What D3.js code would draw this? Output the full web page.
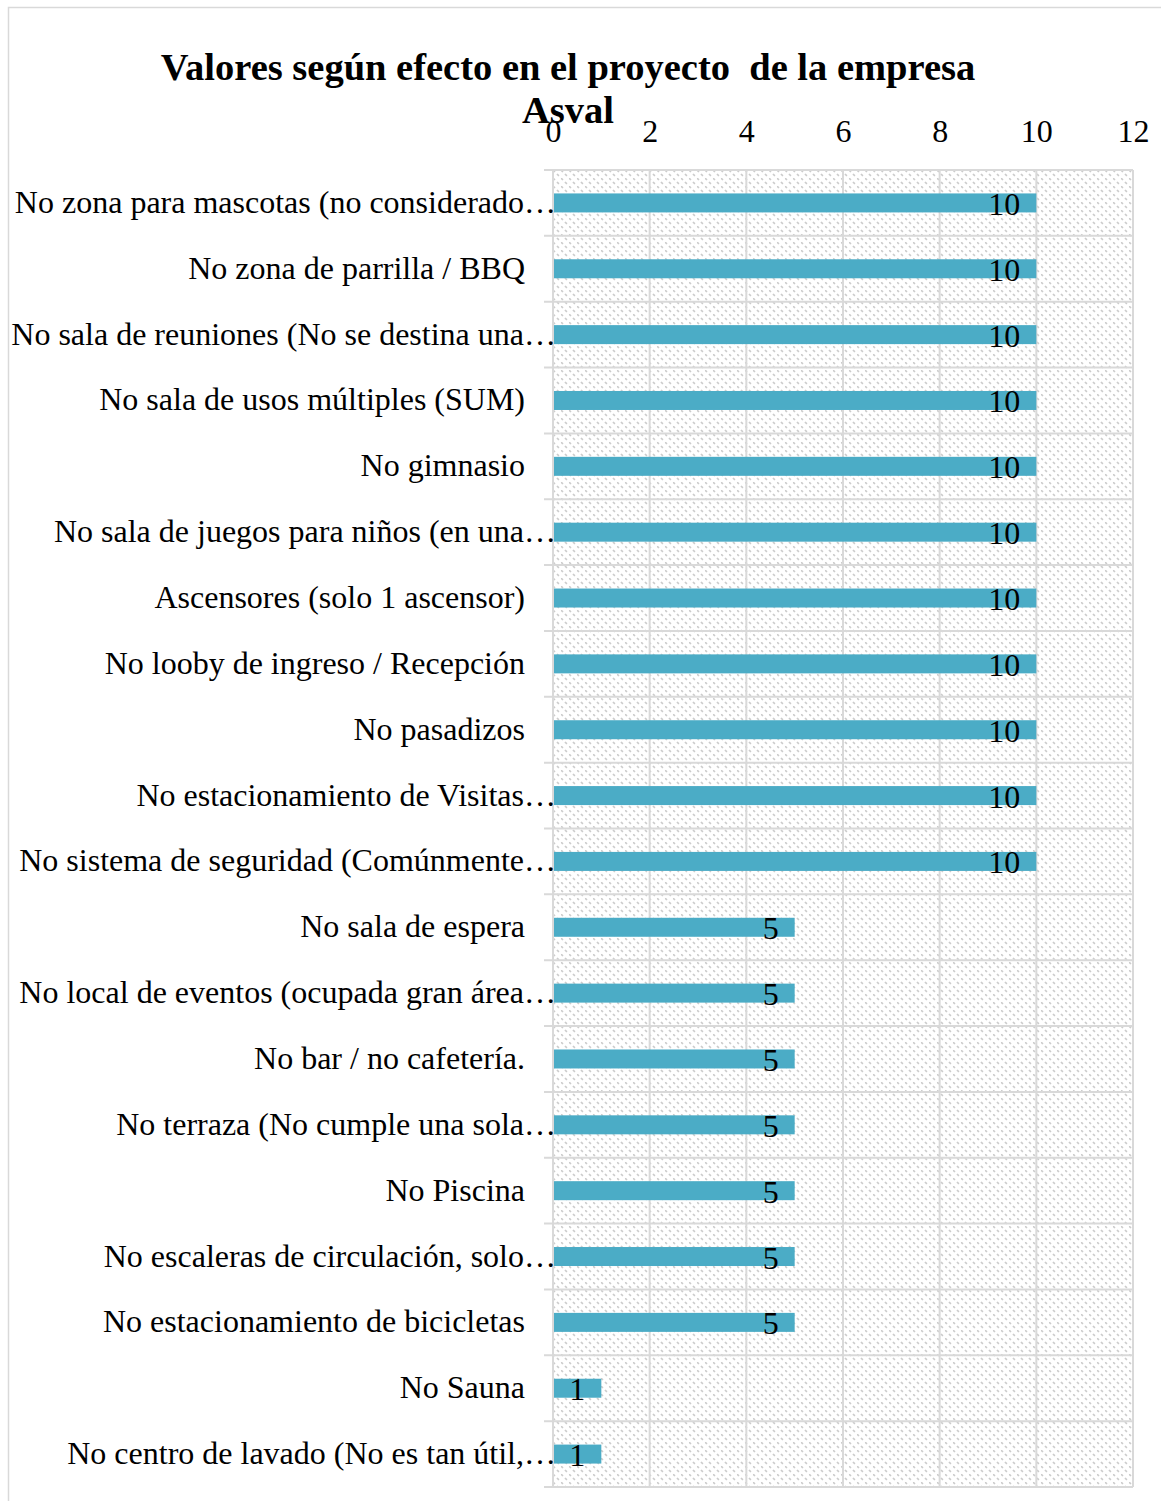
<!DOCTYPE html>
<html>
<head>
<meta charset="utf-8">
<script src="https://cdn.jsdelivr.net/npm/d3@7"></script>
<style>
  body { margin: 0; background: #fff; }
  svg { display: block; font-family: "Liberation Serif", "Times New Roman", serif; }
</style>
</head>
<body>
<div id="chart"></div>
<script>
// data
var categories = [
	"No zona para mascotas (no considerado…",
	"No zona de parrilla / BBQ",
	"No sala de reuniones (No se destina una…",
	"No sala de usos múltiples (SUM)",
	"No gimnasio",
	"No sala de juegos para niños (en una…",
	"Ascensores (solo 1 ascensor)",
	"No looby de ingreso / Recepción",
	"No pasadizos",
	"No estacionamiento de Visitas…",
	"No sistema de seguridad (Comúnmente…",
	"No sala de espera",
	"No local de eventos (ocupada gran área…",
	"No bar / no cafetería.",
	"No terraza (No cumple una sola…",
	"No Piscina",
	"No escaleras de circulación, solo…",
	"No estacionamiento de bicicletas",
	"No Sauna",
	"No centro de lavado (No es tan útil,…"
]
var values = [10, 10, 10, 10, 10, 10, 10, 10, 10, 10, 10, 5, 5, 5, 5, 5, 5, 5, 1, 1]
var xTicks = [0, 2, 4, 6, 8, 10, 12]
var titleLines = ["Valores según efecto en el proyecto  de la empresa", "Asval"]

var W = 1161, H = 1501
var margin = {top: 170, left: 553}

var svg = d3.select("#chart").append("svg")
	.attr("width", W)
	.attr("height", H)

// hatch fill of the plot area
var pat = svg.append("defs").append("pattern")
	.attr("id", "hatch")
	.attr("patternUnits", "userSpaceOnUse")
	.attr("width", 8).attr("height", 8)
pat.append("rect").attr("width", 8).attr("height", 8).attr("fill", "#fff")
pat.append("path")
	.attr("d", "M0,0 L8,8 M-4,4 L0,8 M4,-4 L8,0")
	.attr("stroke", "#cccccc")
	.attr("stroke-width", 1.6)
	.attr("stroke-dasharray", "2.8,2.8")

// outer chart border
svg.append("rect")
	.attr("x", 8.5).attr("y", 7.5)
	.attr("width", W + 20).attr("height", H + 20)
	.attr("fill", "none")
	.attr("stroke", "#d9d9d9")
	.attr("stroke-width", 1.5)

var x = d3.scaleLinear().domain([0, 12]).range([0, 580])
var y = d3.scaleBand().domain(categories).range([0, 1317]).padding(0)

var g = svg.append("g").attr("transform", "translate(" + margin.left + "," + margin.top + ")")

g.append("rect")
	.attr("width", x(12)).attr("height", y.range()[1])
	.attr("fill", "url(#hatch)")

// gridlines
g.selectAll(".vgrid").data(xTicks).enter().append("line")
	.attr("x1", d => x(d)).attr("x2", d => x(d))
	.attr("y1", 0).attr("y2", y.range()[1])
	.attr("stroke", "#d9d9d9").attr("stroke-width", 2)

var rowEdges = categories.map(c => y(c)).concat([y.range()[1]])
g.selectAll(".hgrid").data(rowEdges).enter().append("line")
	.attr("x1", -9).attr("x2", x(12))
	.attr("y1", d => d).attr("y2", d => d)
	.attr("stroke", "#d9d9d9").attr("stroke-width", 2)

// top axis
var xaxis = d3.axisTop(x).tickValues(xTicks).tickSize(0).tickPadding(0)
var ax = g.append("g").attr("transform", "translate(0,-28)").call(xaxis)
ax.select(".domain").remove()
ax.selectAll("text")
	.attr("fill", "#000")
	.style("font-family", "Liberation Serif, serif")
	.style("font-size", "32px")

// bars
var barH = 19
g.selectAll(".bar").data(values).enter().append("rect")
	.attr("x", 1)
	.attr("y", (d, i) => y(categories[i]) + y.bandwidth() / 2 - barH / 2)
	.attr("width", d => x(d) - 1)
	.attr("height", barH)
	.attr("fill", "#4bacc6")

// value labels
g.selectAll(".val").data(values).enter().append("text")
	.attr("x", d => x(d) - 16)
	.attr("y", (d, i) => y(categories[i]) + y.bandwidth() / 2 + 12)
	.attr("text-anchor", "end")
	.style("font-size", "32px")
	.text(d => d)

// category labels
g.selectAll(".cat").data(categories).enter().append("text")
	.attr("x", d => d.endsWith("…") ? 3 : -28)
	.attr("y", d => y(d) + y.bandwidth() / 2 + 10)
	.attr("text-anchor", "end")
	.style("font-size", "32px")
	.text(d => d)

// title
svg.append("text")
	.attr("x", 568)
	.attr("text-anchor", "middle")
	.style("font-size", "38.5px")
	.style("font-weight", "bold")
	.style("white-space", "pre")
	.selectAll("tspan").data(titleLines).enter().append("tspan")
	.attr("x", 568)
	.attr("y", (d, i) => 80 + i * 43)
	.text(d => d)
</script>
</body>
</html>
